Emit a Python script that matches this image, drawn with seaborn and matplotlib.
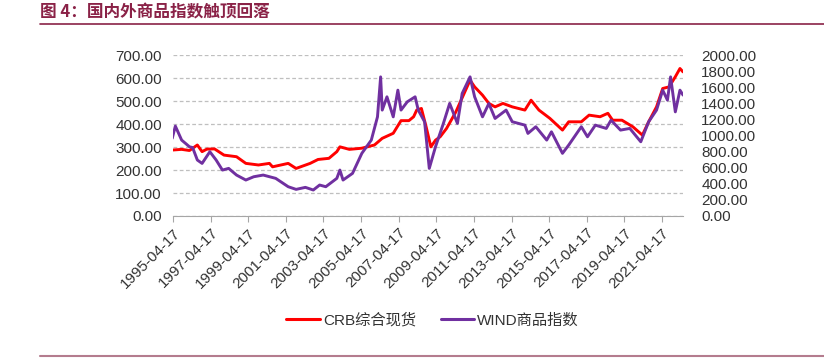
import matplotlib
matplotlib.use("Agg")
import matplotlib.pyplot as plt
from matplotlib.lines import Line2D
import seaborn as sns
import numpy as np
import pandas as pd


# CRB综合现货 (left axis)
crb_dates = ["1995-04", "1995-10", "1996-03", "1996-08", "1996-11", "1997-02", "1997-07",
             "1998-01", "1998-09", "1999-03", "1999-11", "2000-06", "2000-08", "2001-06",
             "2001-11", "2002-08", "2003-01", "2003-08", "2004-01", "2004-03", "2004-09",
             "2005-05", "2006-01", "2006-06", "2007-01", "2007-06", "2007-11", "2008-02",
             "2008-04", "2008-07", "2008-10", "2009-01", "2009-04", "2009-07", "2009-11",
             "2010-05", "2011-02", "2011-05", "2011-10", "2012-02", "2012-06", "2012-11",
             "2013-05", "2014-01", "2014-05", "2014-10", "2015-05", "2016-01", "2016-05",
             "2017-01", "2017-06", "2018-01", "2018-06", "2018-09", "2019-03", "2019-10",
             "2020-04", "2020-08", "2021-01", "2021-05", "2021-09", "2022-01", "2022-04",
             "2022-06"]
crb_values = [287, 290, 285, 309, 280, 291, 292,
              265, 258, 229, 222, 229, 214, 229,
              207, 229, 246, 251, 280, 301, 290,
              295, 309, 338, 360, 415, 415, 432,
              461, 468, 388, 301, 330, 345, 381,
              453, 591, 562, 526, 490, 475, 490,
              475, 461, 504, 461, 425, 374, 410,
              410, 439, 432, 447, 417, 417, 388,
              352, 410, 475, 555, 562, 606, 642,
              627]

# WIND商品指数 (right axis)
wind_dates = ["1995-04", "1995-06", "1995-10", "1996-03", "1996-05", "1996-08", "1996-11",
              "1997-04", "1997-08", "1997-12", "1998-04", "1998-09", "1999-03", "1999-08",
              "2000-02", "2000-10", "2001-06", "2001-11", "2002-05", "2002-10", "2003-02",
              "2003-06", "2004-01", "2004-03", "2004-05", "2004-11", "2005-05", "2005-11",
              "2006-03", "2006-05", "2006-06", "2006-09", "2007-01", "2007-04", "2007-06",
              "2007-10", "2008-03", "2008-05", "2008-09", "2008-12", "2009-04", "2009-09",
              "2010-01", "2010-06", "2010-09", "2011-02", "2011-05", "2011-10", "2012-02",
              "2012-06", "2013-01", "2013-05", "2014-01", "2014-03", "2014-08", "2015-03",
              "2015-06", "2016-01", "2016-05", "2017-01", "2017-05", "2017-10", "2018-05",
              "2018-08", "2019-02", "2019-08", "2020-03", "2020-08", "2021-01", "2021-05",
              "2021-08", "2021-10", "2022-01", "2022-04", "2022-06"]
wind_values = [965, 1118, 944, 861, 851, 696, 654,
               799, 696, 571, 592, 509, 447, 488,
               509, 468, 364, 331, 356, 323, 385,
               364, 468, 571, 447, 530, 779, 944,
               1233, 1730, 1317, 1482, 1233, 1565, 1317,
               1420, 1482, 1317, 1172, 592, 861, 1151,
               1400, 1151, 1524, 1730, 1482, 1233, 1399,
               1213, 1317, 1172, 1130, 1027, 1110, 944,
               1047, 779, 882, 1110, 985, 1130, 1089,
               1192, 1068, 1089, 923, 1172, 1317, 1565,
               1441, 1730, 1295, 1565, 1503]

tick_years = list(range(1995, 2022, 2))

crb = pd.DataFrame({"date": pd.to_datetime(crb_dates), "value": crb_values})
wind = pd.DataFrame({"date": pd.to_datetime(wind_dates), "value": wind_values})

sns.set_style("white")
plt.rcParams["font.family"] = ["Liberation Sans", "Noto Sans CJK SC", "DejaVu Sans"]

red = "#FF0000"
purple = "#7030A0"
maroon = "#8A2247"
txt = "#333333"

fig = plt.figure(figsize=(8.24, 3.63), dpi=100)
ax = fig.add_axes([0.21, 0.405, 0.619, 0.443])
ax2 = ax.twinx()

sns.lineplot(data=crb, x="date", y="value", ax=ax, color=red, linewidth=2.1)
sns.lineplot(data=wind, x="date", y="value", ax=ax2, color=purple, linewidth=2.1)

ax.set_xlim(pd.Timestamp("1995-04-17"), pd.Timestamp("2022-06-01"))
ax.set_ylim(0, 700)
ax2.set_ylim(0, 2000)
ax.set_yticks(np.arange(0, 701, 100))
ax2.set_yticks(np.arange(0, 2001, 200))
ax.yaxis.set_major_formatter(plt.FormatStrFormatter("%.2f"))
ax2.yaxis.set_major_formatter(plt.FormatStrFormatter("%.2f"))

ticks = [pd.Timestamp(f"{y}-04-17") for y in tick_years]
ax.set_xticks(ticks)
ax.set_xticklabels([t.strftime("%Y-%m-%d") for t in ticks], rotation=45,
                   ha="right", rotation_mode="anchor", fontsize=11, color=txt)

ax.grid(axis="y", color="#BFBFBF", linestyle=(0, (3, 2)), linewidth=0.9)
ax.set_axisbelow(True)
ax.set_xlabel("")
ax.set_ylabel("")
ax2.set_ylabel("")

for a in (ax, ax2):
    for s in ("left", "right", "top"):
        a.spines[s].set_visible(False)
    a.spines["bottom"].set_color("#A6A6A6")
ax2.spines["bottom"].set_visible(False)

ax.tick_params(axis="x", length=4, width=0.8, color="#A6A6A6", pad=3, direction="out", bottom=True)
ax.tick_params(axis="y", length=0, labelsize=11, labelcolor=txt, pad=8)
ax2.tick_params(axis="y", length=0, labelsize=11, labelcolor=txt, pad=13)

handles = [Line2D([], [], color=red, linewidth=2.2),
           Line2D([], [], color=purple, linewidth=2.2)]
fig.legend(handles, ["CRB综合现货", "WIND商品指数"], loc="center",
           bbox_to_anchor=(0.525, 0.118), ncol=2, frameon=False,
           fontsize=11, handlelength=2.2, handletextpad=0.2, columnspacing=1.6,
           labelcolor=txt)

fig.text(0.049, 0.965, "图 4：国内外商品指数触顶回落", fontsize=12, fontweight="bold",
         color=maroon, va="center", ha="left",
         family=["Noto Sans CJK SC", "DejaVu Sans"])
fig.add_artist(Line2D([0.049, 1.0], [0.934, 0.934], color=maroon, linewidth=1.2))
fig.add_artist(Line2D([0.049, 1.0], [0.019, 0.019], color="#B47C8E", linewidth=1.5))

fig.savefig("out.png", dpi=100)
